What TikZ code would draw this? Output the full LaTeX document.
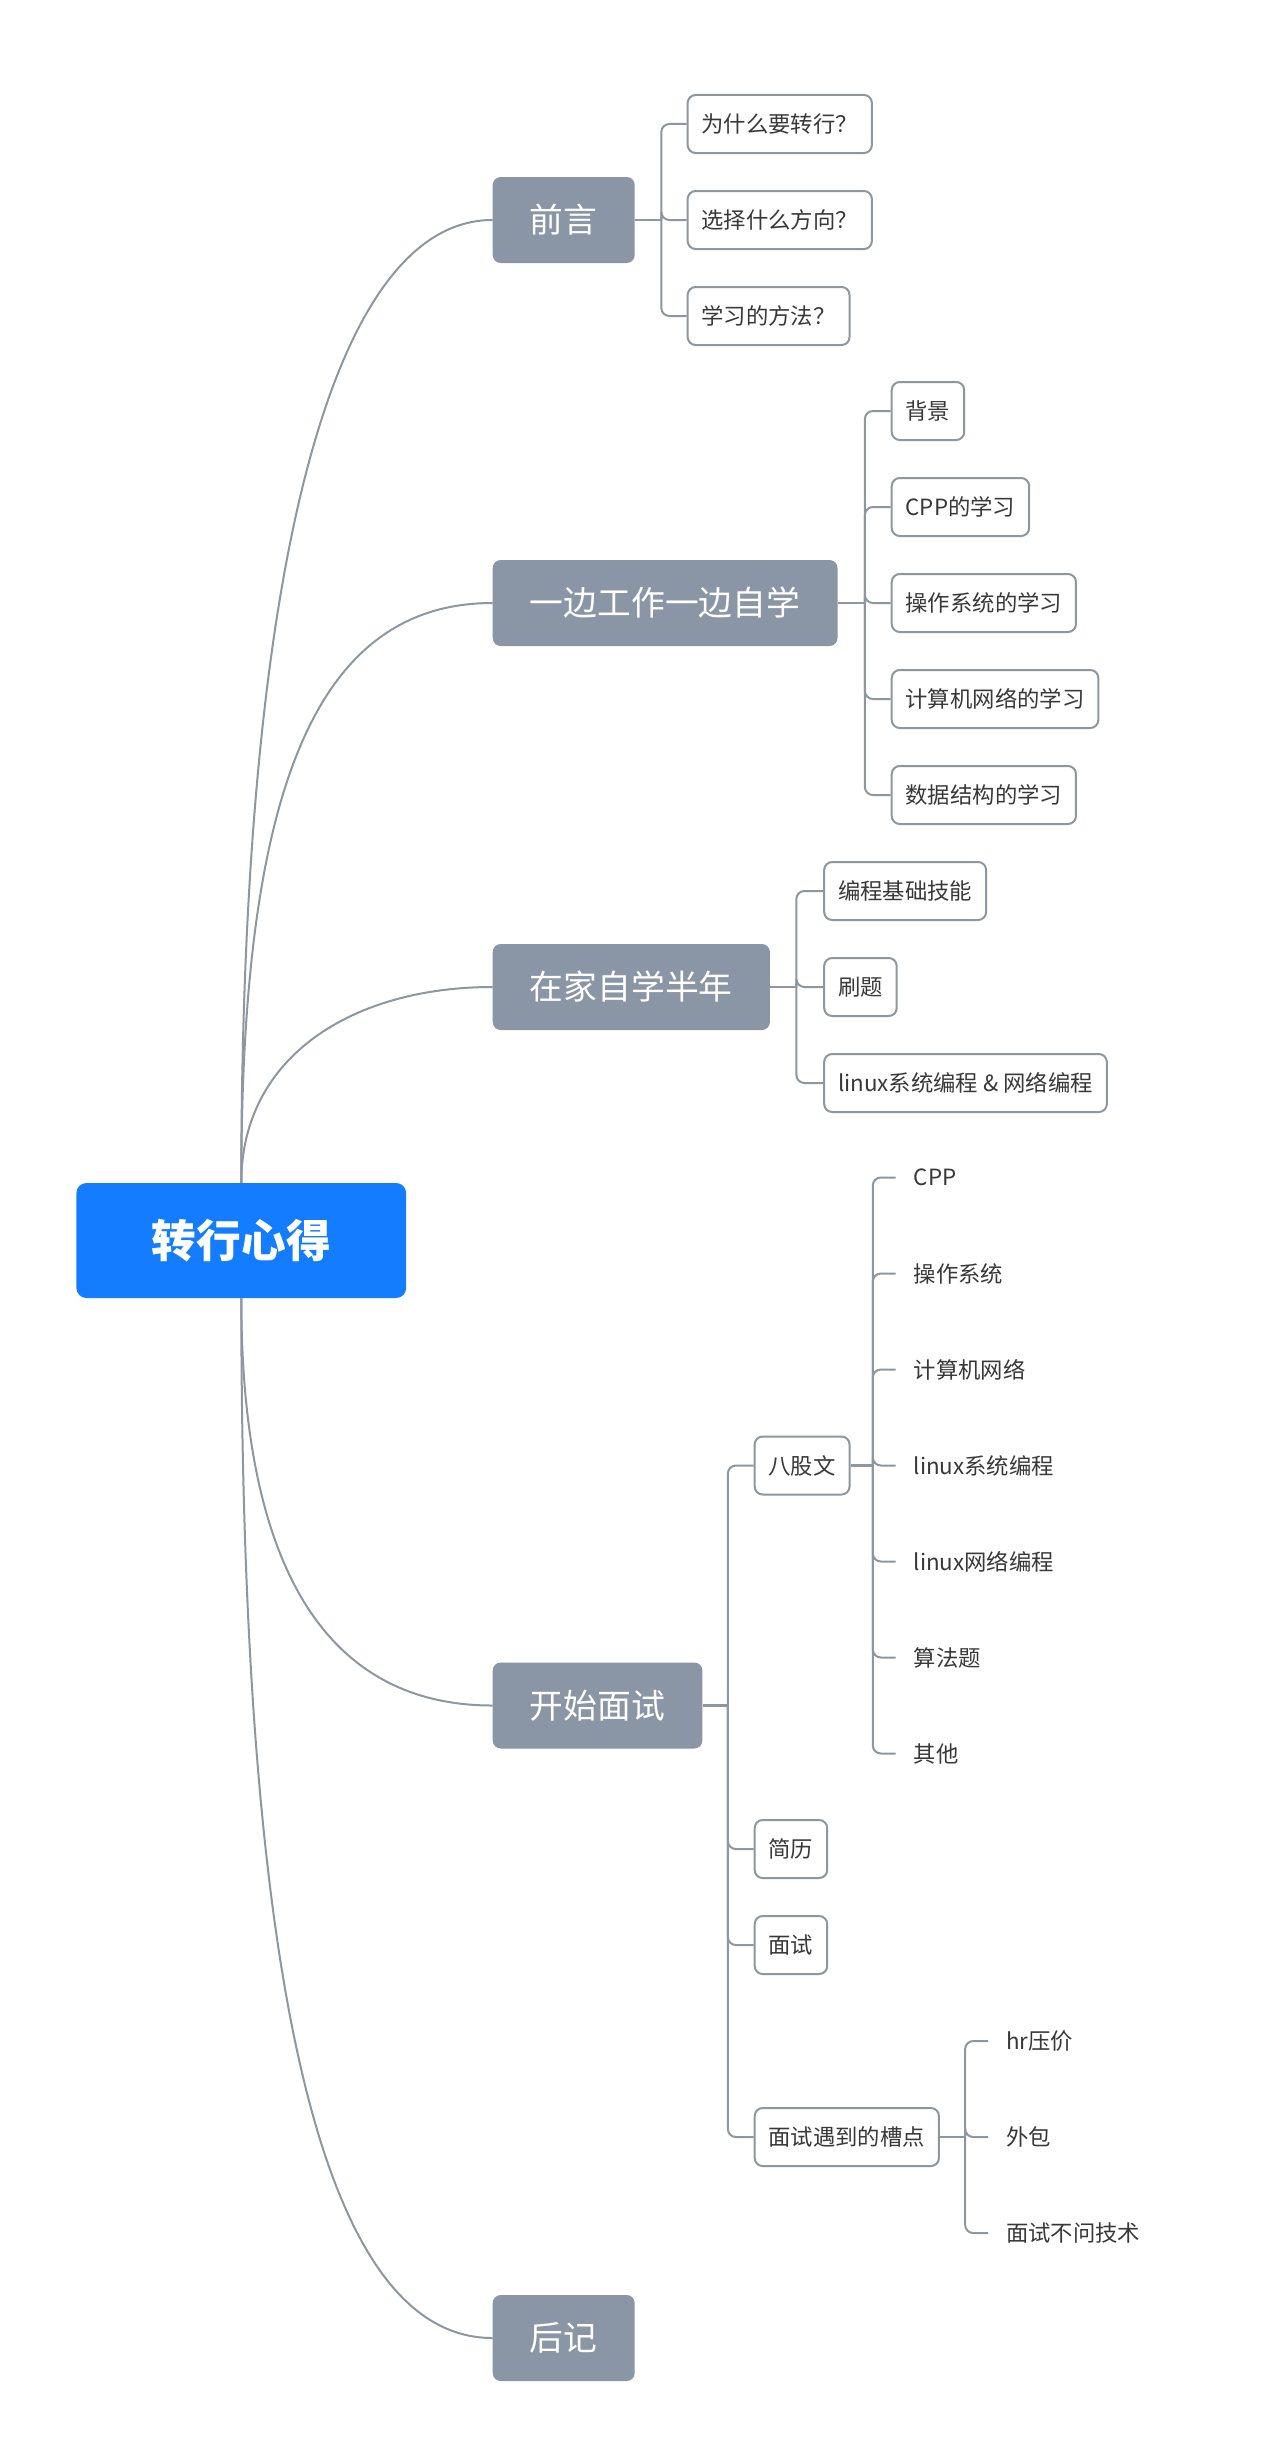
\documentclass[tikz,border=0pt]{standalone}
\usepackage{fontspec}
\setmainfont{Noto Sans CJK SC}
\usetikzlibrary{calc}
\definecolor{topicfill}{HTML}{8A95A5}
\definecolor{rootfill}{HTML}{137CFF}
\definecolor{linegrey}{HTML}{8E969F}
\definecolor{leaftext}{HTML}{383838}
\begin{document}
\begin{tikzpicture}[x=0.993pt,y=-1pt,
  rootbox/.style={fill=rootfill, rounded corners=10pt, text=white,
    font=\fontsize{44.7}{54}\selectfont\bfseries, minimum width=329.7pt,
    minimum height=115pt, inner sep=0pt},
  topic/.style={fill=topicfill, rounded corners=8pt, text=white,
    font=\fontsize{33.8}{40}\selectfont, minimum height=86pt,
    inner xsep=37.2pt, inner ysep=0pt, anchor=west},
  leafbox/.style={draw=linegrey, line width=2pt, fill=white, rounded corners=8pt,
    text=leaftext, font=\fontsize{22.35}{27}\selectfont, minimum height=58pt,
    inner xsep=13.9pt, inner ysep=0pt, anchor=west},
  leaftxt/.style={text=leaftext, font=\fontsize{22.35}{27}\selectfont,
    inner xsep=17.9pt, inner ysep=0pt, minimum height=40pt, anchor=west},
  stub/.style={draw=linegrey, line width=2.5pt},
  branch/.style={draw=linegrey, line width=2pt, rounded corners=8pt},
  curve/.style={draw=linegrey, line width=2pt}
]
\fill[white] (0,0) rectangle (1289,2438);
\useasboundingbox (0,0) rectangle (1289,2438);

% root and main topics
\node[rootbox] (root) at (243,1240.5) {转行心得};
\node[topic] (t1) at (496,220) {前言};
\node[topic] (t2) at (496,603) {一边工作一边自学};
\node[topic] (t3) at (496,987) {在家自学半年};
\node[topic] (t4) at (496,1705.5) {开始面试};
\node[topic] (t5) at (496,2338) {后记};

% 前言
\node[leafbox] (a1) at (691.5,124) {为什么要转行？};
\node[leafbox] (a2) at (691.5,220) {选择什么方向？};
\node[leafbox] (a3) at (691.5,316) {学习的方法？};
% 一边工作一边自学
\node[leafbox] (b1) at (897,411) {背景};
\node[leafbox] (b2) at (897,507) {CPP的学习};
\node[leafbox] (b3) at (897,603) {操作系统的学习};
\node[leafbox] (b4) at (897,699) {计算机网络的学习};
\node[leafbox] (b5) at (897,795) {数据结构的学习};
% 在家自学半年
\node[leafbox] (c1) at (829,891) {编程基础技能};
\node[leafbox] (c2) at (829,987) {刷题};
\node[leafbox] (c3) at (829,1083) {linux系统编程 \& 网络编程};
% 开始面试
\node[leafbox] (d1) at (759,1465.5) {八股文};
\node[leafbox] (d2) at (759,1849) {简历};
\node[leafbox] (d3) at (759,1945) {面试};
\node[leafbox] (d4) at (759,2137) {面试遇到的槽点};
% 八股文
\node[leaftxt] (e1) at (902,1177.5) {CPP};
\node[leaftxt] (e2) at (902,1273.5) {操作系统};
\node[leaftxt] (e3) at (902,1369.5) {计算机网络};
\node[leaftxt] (e4) at (902,1465.5) {linux系统编程};
\node[leaftxt] (e5) at (902,1561.5) {linux网络编程};
\node[leaftxt] (e6) at (902,1657.5) {算法题};
\node[leaftxt] (e7) at (902,1753.5) {其他};
% 面试遇到的槽点
\node[leaftxt] (f1) at (995,2041) {hr压价};
\node[leaftxt] (f2) at (995,2137) {外包};
\node[leaftxt] (f3) at (995,2233) {面试不问技术};

% bracket junctions
\coordinate (k1) at (666,220);
\coordinate (k2) at (871,603);
\coordinate (k3) at (802,987);
\coordinate (k4) at (733,1705.5);
\coordinate (k5) at (879,1465.5);
\coordinate (k6) at (972,2137);

% curves from root
\draw[curve] (root.north) .. controls +(0,-626) and +(-159,0) .. (t1.west);
\draw[curve] (root.north) .. controls +(0,-377) and +(-185,0) .. (t2.west);
\draw[curve] (root.north) .. controls +(0,-127) and +(-140,0) .. (t3.west);
\draw[curve] (root.south) .. controls +(0,265) and +(-170,0) .. (t4.west);
\draw[curve] (root.south) .. controls +(0,676) and +(-175,0) .. (t5.west);

% brackets
\draw[stub] (t1.east) -- (k1);
\foreach \c in {a1,a2,a3} \draw[branch] (k1) |- (\c.west);
\draw[stub] (t2.east) -- (k2);
\foreach \c in {b1,b2,b3,b4,b5} \draw[branch] (k2) |- (\c.west);
\draw[stub] (t3.east) -- (k3);
\foreach \c in {c1,c2,c3} \draw[branch] (k3) |- (\c.west);
\draw[stub] (t4.east) -- (k4);
\foreach \c in {d1,d2,d3,d4} \draw[branch] (k4) |- (\c.west);
\draw[stub] (d1.east) -- (k5);
\foreach \c in {e1,e2,e3,e4,e5,e6,e7} \draw[branch] (k5) |- (\c.west);
\draw[stub] (d4.east) -- (k6);
\foreach \c in {f1,f2,f3} \draw[branch] (k6) |- (\c.west);
\end{tikzpicture}
\end{document}
